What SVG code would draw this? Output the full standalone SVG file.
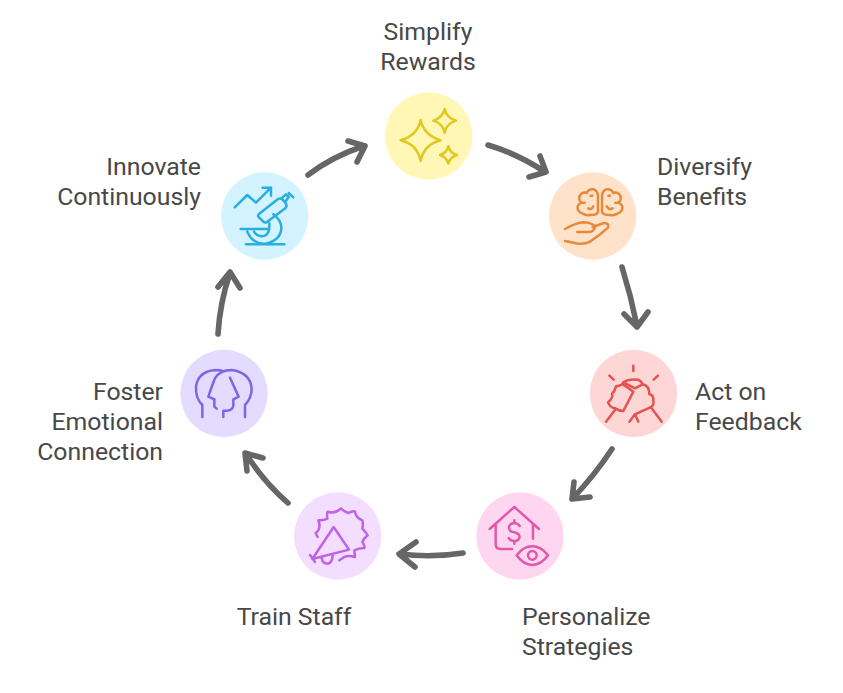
<svg xmlns="http://www.w3.org/2000/svg" width="843" height="693" viewBox="0 0 843 693">
  <style>
    text { font-family: Roboto, "Liberation Sans", sans-serif; font-size: 24.8px; fill: #484848; }
    .ico { fill: none; stroke-width: 7.5; stroke-linecap: round; stroke-linejoin: round; }
    .arrow { fill: none; stroke: #666666; stroke-width: 5.6; stroke-linecap: round; stroke-linejoin: round; }
  </style>
  <rect width="843" height="693" fill="#ffffff"/>

  <g id="connectors">
    <path class="arrow" d="M308 175 Q333 156 364 146 M348 141 L365 146 L357 162"/>
    <path class="arrow" d="M488 145 Q518 154 545 172 M540 156 L546 172 L529 177"/>
    <path class="arrow" d="M622 267 Q631 296 637 326 M624 314 L637 327 L648 312"/>
    <path class="arrow" d="M612 449 Q594 476 573 498 M574 482 L572 499 L590 497"/>
    <path class="arrow" d="M463 553 Q431 558 400 554 M416 542 L399 554 L415 567"/>
    <path class="arrow" d="M288 503 Q264 482 246 454 M247 471 L245 453 L263 458"/>
    <path class="arrow" d="M218 334 Q220 302 230 273 M218 287 L230 272 L240 288"/>
  </g>

  <g id="node-simplify-rewards">
    <circle cx="428.7" cy="136" r="43.7" fill="#fef7b6"/>
    <g class="ico" stroke="#e0c91c" transform="translate(375 85) scale(.3333)">
      <path d="M137 105 Q146 150 197 166 Q147 178 137 228 Q127 178 77 166 Q127 152 137 105Z"/>
      <path d="M209 72 Q214 98 243 107 Q215 115 209 143 Q203 115 175 107 Q203 98 209 72Z"/>
      <path d="M220 184 Q224 204 246 210 Q225 216 220 236 Q215 216 195 210 Q215 204 220 184Z"/>
    </g>
    <text x="428" y="40" text-anchor="middle">Simplify</text>
    <text x="428" y="70" text-anchor="middle">Rewards</text>
  </g>

  <g id="node-diversify-benefits">
    <circle cx="592.7" cy="216" r="43.7" fill="#ffe2c9"/>
    <g class="ico" stroke="#e5893a" transform="translate(540 165) scale(.3333)">
      <path d="M174 92 L174 140 Q172 150 150 150 Q138 152 128 146 Q110 140 113 124 Q116 116 124 113 Q112 100 122 88 Q130 80 140 84 Q146 72 160 73 Q172 76 174 92Z"/>
      <path d="M186 92 L186 140 Q188 150 210 150 Q222 152 232 146 Q250 140 247 124 Q244 116 236 113 Q248 100 238 88 Q230 80 220 84 Q214 72 200 73 Q188 76 186 92Z"/>
      <path d="M152 92 L157 92 M205 92 L210 92 M145 130 Q155 136 160 124 M200 124 Q207 136 218 130 M124 113 L134 113 M236 113 L226 113"/>
      <path d="M75 192 Q105 175 130 172 Q150 172 165 183 Q165 202 140 201 L112 201 M158 186 L192 174 Q208 174 204 188 Q180 210 150 230 Q135 238 115 236 L75 228"/>
    </g>
    <text x="657" y="175">Diversify</text>
    <text x="657" y="205">Benefits</text>
  </g>

  <g id="node-act-on-feedback">
    <circle cx="633.5" cy="393.5" r="43.7" fill="#ffd6d6"/>
    <g class="ico" stroke="#e5534f" transform="translate(580 345) scale(.3333)">
      <path d="M160 62 L160 78 M88 92 L101 104 M234 92 L221 104"/>
      <path d="M78 230 L105 195 M245 230 L215 190 M148 230 L165 208 L175 230"/>
      <path d="M165 208 Q185 198 205 190 Q225 182 220 168 Q222 150 208 148 Q208 122 188 118 Q180 102 165 104 Q145 102 130 112 Q128 122 108 124 Q104 140 96 146 Q100 160 84 172 Q90 188 105 190 Q118 198 130 198 L160 140 Q145 128 128 118"/>
      <path d="M130 112 L165 130 L188 118"/>
    </g>
    <text x="695" y="400">Act on</text>
    <text x="695" y="430">Feedback</text>
  </g>

  <g id="node-personalize-strategies">
    <circle cx="520" cy="536" r="43.7" fill="#ffd6f0"/>
    <g class="ico" stroke="#e257ae" transform="translate(465 487) scale(.3333)">
      <path d="M74 126 L148 60 L222 126 M92 112 L92 172 Q92 186 106 186 L141 186 M204 112 L204 155"/>
      <path d="M164 117 Q158 108 148 108 Q132 110 132 122 Q132 134 148 136 Q164 140 164 150 Q162 162 148 162 Q136 162 131 153 M148 100 L148 108 M148 162 L148 170"/>
      <path d="M155 205 Q175 178 202 178 Q228 178 249 205 Q228 234 202 234 Q175 234 155 205Z"/>
      <circle cx="202" cy="205" r="13"/>
    </g>
    <text x="522" y="625">Personalize</text>
    <text x="522" y="655">Strategies</text>
  </g>

  <g id="node-train-staff">
    <circle cx="337.7" cy="536" r="43.7" fill="#f3deff"/>
    <g class="ico" stroke="#c062e8" transform="translate(285 487) scale(.3333)">
      <path d="M92 138 L98 150 M92 138 Q110 125 100 100 Q118 100 127 95 Q125 80 128 74 Q150 82 168 64 Q178 75 190 78 Q205 70 210 74 Q212 92 232 100 Q235 115 232 125 Q242 135 248 145 Q235 155 232 165 Q240 175 238 183 Q220 183 208 190 Q210 205 210 210 Q190 204 178 210 L163 220"/>
      <path d="M146 120 L192 188 L82 216 Z M75 204 L90 225"/>
      <path d="M110 213 Q112 230 128 230 Q142 228 143 206"/>
    </g>
    <text x="294" y="625" text-anchor="middle">Train Staff</text>
  </g>

  <g id="node-foster-emotional-connection">
    <circle cx="224" cy="393.5" r="43.7" fill="#e4dcff"/>
    <g class="ico" stroke="#7b66e8" transform="translate(170 345) scale(.3333)">
      <path d="M97 216 L97 180 Q76 160 78 125 Q84 80 135 75 Q150 75 158 78 M133 163 L133 185 L140 191"/>
      <path d="M115 155 L133 163 M115 155 Q125 125 135 100 Q150 75 185 75 Q240 82 245 130 Q245 160 225 180 L225 216 M180 98 L206 155 L190 163 L190 182 Q188 195 172 197 L160 197 L160 216"/>
    </g>
    <text x="163" y="400" text-anchor="end">Foster</text>
    <text x="163" y="430" text-anchor="end">Emotional</text>
    <text x="163" y="460" text-anchor="end">Connection</text>
  </g>

  <g id="node-innovate-continuously">
    <circle cx="264.7" cy="216" r="43.7" fill="#d2f3ff"/>
    <g class="ico" stroke="#29aee0" transform="translate(210 165) scale(.3333)">
      <path d="M74 127 L112 90 L138 113 L183 68 M158 68 L183 68 L183 92"/>
      <path d="M146 148 L204 102 Q212 98 218 104 L228 116 Q232 124 226 130 L170 172 Q164 174 160 170 L146 156 Q143 152 146 148Z M214 100 L228 88 L236 96 L226 110 M236 84 L250 97"/>
      <path d="M190 148 Q214 165 214 190 Q212 225 168 236 Q128 238 112 200 M92 192 L172 192 M132 200 Q145 218 165 212 Q180 205 178 175"/>
      <path d="M108 238 L223 238"/>
    </g>
    <text x="201" y="175" text-anchor="end">Innovate</text>
    <text x="201" y="205" text-anchor="end">Continuously</text>
  </g>
</svg>
